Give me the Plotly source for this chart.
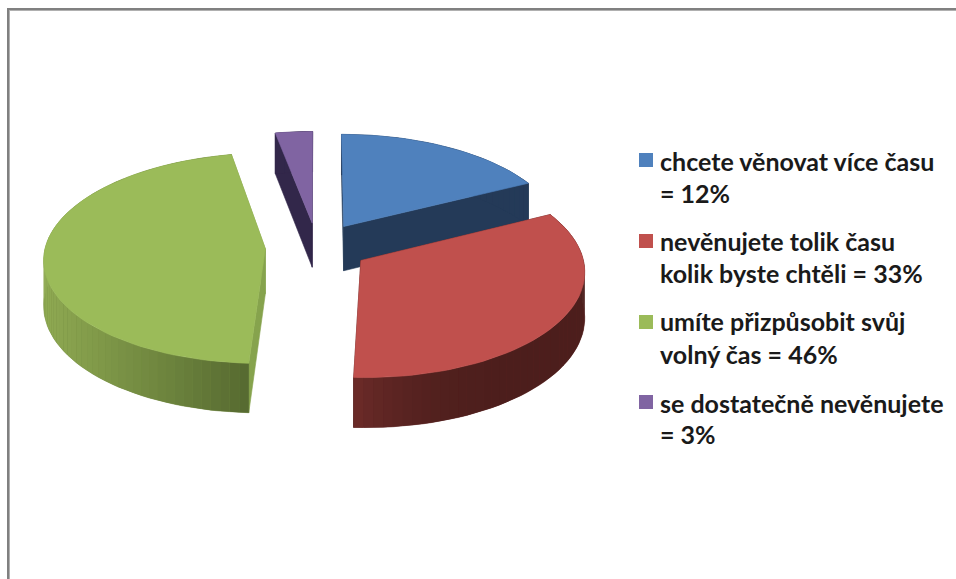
import numpy as np
import plotly.graph_objects as go

# Data
categories = ["chcete věnovat více času", "nevěnujete tolik času", "umíte přizpůsobit svůj", "se dostatečně nevěnujete"]
values = [17.5, 33, 46, 3]          # slice sizes
legend_lines = [
    ["chcete věnovat více času", "= 12%"],
    ["nevěnujete tolik času", "kolik byste chtěli = 33%"],
    ["umíte přizpůsobit svůj", "volný čas = 46%"],
    ["se dostatečně nevěnujete", "= 3%"],
]
top_colors = ["#4F81BD", "#C0504D", "#9BBB59", "#8064A2"]
cut_colors = ["#243A58", "#4C1E1C", "#86A34D", "#32274A"]
# rim wall colour at start and end of each slice, and how the shade falls off
arc_colors = [("#243A58", "#243A58"), ("#4C1E1C", "#6C2B28"), ("#566A30", "#8FAA52"), ("#32274A", "#32274A")]
arc_power = [1, 3, 1, 1]

# Projection settings
CX, CY, RX, RY, K, EXPLODE, DEPTH = 317, 247, 220, 104, 0.09, 0.235, 45


def project(X, Y, drop=0.0):
    s = 1 / (1 + K * Y)
    return CX + RX * X * s, CY - RY * Y * s + drop * s


def hex_rgb(c):
    return np.array([int(c[i:i + 2], 16) for i in (1, 3, 5)], float)


def mix(a, b, t):
    r, g, b2 = hex_rgb(a) * (1 - t) + hex_rgb(b) * t
    return f"rgb({r:.0f},{g:.0f},{b2:.0f})"


def poly(xs, ys, color, width=0.6):
    return go.Scatter(x=list(xs) + [xs[0]], y=list(ys) + [ys[0]], mode="lines", fill="toself",
                      fillcolor=color, line=dict(color=color, width=width),
                      hoverinfo="skip", showlegend=False)


fig = go.Figure()
total = sum(values)
edges = np.concatenate([[0], np.cumsum(values)]) / total * 2 * np.pi
traces = {}
for i in range(len(values)):
    a0, a1 = edges[i], edges[i + 1]
    mid = (a0 + a1) / 2
    ox, oy = EXPLODE * np.sin(mid), EXPLODE * np.cos(mid)
    aa = np.linspace(a0, a1, max(int(values[i] * 1.6), 4) + 1)
    ax_, ay_ = ox + np.sin(aa), oy + np.cos(aa)
    t = []
    # cut walls
    for (ex, ey) in ((ax_[0], ay_[0]), (ax_[-1], ay_[-1])):
        p = [project(ex, ey), project(ox, oy), project(ox, oy, DEPTH), project(ex, ey, DEPTH)]
        t.append(poly([q[0] for q in p], [q[1] for q in p], cut_colors[i]))
    # rim wall: solid base, then strips shaded along the horizontal
    tx0, ty0 = project(ax_, ay_)
    bx0, by0 = project(ax_, ay_, DEPTH)
    t.append(poly(list(tx0) + list(bx0[::-1]), list(ty0) + list(by0[::-1]), mix(*arc_colors[i], 0.5), 0.5))
    span = np.abs(tx0 - tx0[0]).max()
    for j in range(len(aa) - 1):
        p = [(tx0[j], ty0[j]), (tx0[j + 1], ty0[j + 1]), (bx0[j + 1], by0[j + 1]), (bx0[j], by0[j])]
        frac = abs((tx0[j] + tx0[j + 1]) / 2 - tx0[0]) / span
        frac = min(frac, 1) ** arc_power[i]
        t.append(poly([q[0] for q in p], [q[1] for q in p], mix(*arc_colors[i], frac), 0))
    # top face
    tx, ty = project(np.r_[ox, ax_], np.r_[oy, ay_])
    t.append(poly(list(tx), list(ty), top_colors[i]))
    traces[i] = t

for i in (3, 0, 1, 2):
    fig.add_traces(traces[i])

# legend
key_x, key_y = 646, [160, 241, 322, 402]
line_y = [[161, 193], [241, 273], [321, 354], [403, 434]]
fig.add_trace(go.Scatter(x=[key_x] * 4, y=key_y, mode="markers", hoverinfo="skip", showlegend=False,
                         marker=dict(symbol="square", size=14, color=top_colors, line=dict(width=0))))
for lines, ys in zip(legend_lines, line_y):
    for text, y in zip(lines, ys):
        fig.add_annotation(x=658, y=y, text=text, showarrow=False, xanchor="left", yanchor="middle",
                           font=dict(family="Lato", size=25, color="#1a1a1a", weight="bold"))

grey = "#808080"
fig.update_layout(
    width=956, height=579, margin=dict(l=0, r=0, t=0, b=0), paper_bgcolor="white", plot_bgcolor="white",
    xaxis=dict(range=[0, 956], visible=False), yaxis=dict(range=[579, 0], visible=False),
    shapes=[
        dict(type="line", x0=8, x1=8, y0=8, y1=579, line=dict(color=grey, width=2)),
        dict(type="line", x0=7, x1=956, y0=9, y1=9, line=dict(color=grey, width=2)),
        dict(type="line", x0=9.5, x1=9.5, y0=10, y1=579, line=dict(color="#b0b0b0", width=1)),
        dict(type="line", x0=9, x1=956, y0=10.5, y1=10.5, line=dict(color="#b0b0b0", width=1)),
    ],
)
fig.write_html("out.html", post_script="document.body.style.margin='0';", config={"displayModeBar": False})
